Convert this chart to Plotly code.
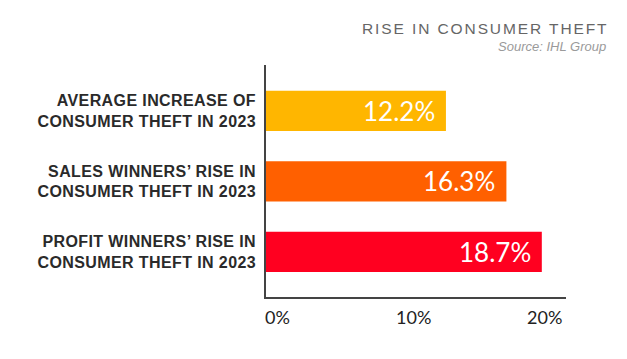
import plotly.graph_objects as go

categories = [
    "AVERAGE INCREASE OF<br>CONSUMER THEFT IN 2023",
    "SALES WINNERS’ RISE IN<br>CONSUMER THEFT IN 2023",
    "PROFIT WINNERS’ RISE IN<br>CONSUMER THEFT IN 2023",
]
values = [12.2, 16.3, 18.7]
value_labels = ["12.2%", "16.3%", "18.7%"]
bar_colors = ["#FFB600", "#FF6000", "#FF0020"]
tick_vals = [0, 10, 20]
tick_labels = ["0%", "10%", "20%"]
tick_anchors = ["left", "center", "right"]
tick_nudge = [-3, 0, 3]
title_text = "RISE IN CONSUMER THEFT"
source_text = "Source: IHL Group"

fig = go.Figure()
fig.add_trace(go.Bar(
    x=values, y=list(range(len(categories))), orientation="h",
    marker=dict(color=bar_colors, line=dict(width=0)),
    hoverinfo="skip",
))

ann = []
for v, lab, i in zip(values, value_labels, range(len(values))):
    ann.append(dict(x=v, y=i, xref="x", yref="y", text=lab, showarrow=False,
                    xanchor="right", yanchor="middle", xshift=-9,
                    font=dict(family="Lato", size=26, color="white")))
for tv, tl, anc, nd in zip(tick_vals, tick_labels, tick_anchors, tick_nudge):
    ann.append(dict(x=tv, y=0, xref="x", yref="paper", text=tl, showarrow=False,
                    xanchor=anc, yanchor="middle", yshift=-19.5, xshift=nd,
                    font=dict(family="Lato", size=18, color="#222222")))
ann.append(dict(x=1, y=1, xref="paper", yref="paper",
                text='<span style="letter-spacing:1.9px">' + title_text + '</span>',
                showarrow=False, xanchor="right", yanchor="middle", xshift=44, yshift=37,
                font=dict(family="Liberation Sans", size=15.5, color="#666666")))
ann.append(dict(x=1, y=1, xref="paper", yref="paper",
                text='<i>' + source_text + '</i>',
                showarrow=False, xanchor="right", yanchor="middle", xshift=42, yshift=19,
                font=dict(family="Liberation Sans", size=13, color="#9a9a9a")))

sp = '<span style="letter-spacing:0.4px">'
fig.update_layout(
    width=619, height=351,
    margin=dict(l=258, r=61, t=57, b=62),
    paper_bgcolor="white", plot_bgcolor="white",
    bargap=0.43, showlegend=False,
    annotations=ann,
    xaxis=dict(range=[0, 20.34], showgrid=False, zeroline=False, showticklabels=False,
               showline=True, linecolor="#444444", linewidth=1.5, ticks="", fixedrange=True,
               automargin=False),
    yaxis=dict(range=[2.64, -0.65], showgrid=False, zeroline=False,
               tickvals=list(range(len(categories))),
               ticktext=[sp + c.replace("<br>", '</span><br>' + sp) + '</span>' for c in categories],
               tickfont=dict(family="Liberation Sans", size=16, color="#2a2a2a", weight="bold"),
               ticklabelstandoff=5,
               showline=True, linecolor="#444444", linewidth=1.5, ticks="", fixedrange=True,
               automargin=False),
)
fig.write_html("out.html")
